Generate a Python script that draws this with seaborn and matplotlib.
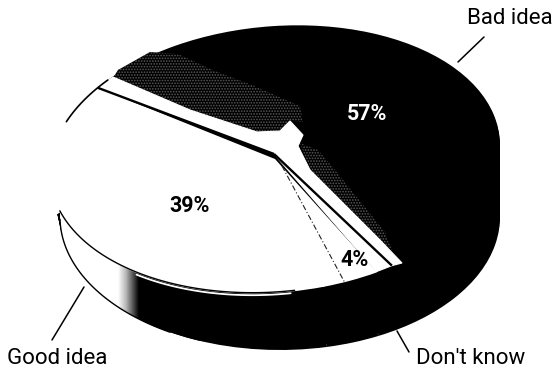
import numpy as np
import matplotlib
matplotlib.use("Agg")
import matplotlib.pyplot as plt
from matplotlib.patches import Polygon
from matplotlib.transforms import Affine2D
import seaborn as sns

# Survey shares, counter-clockwise from the upper-left edge of "Good idea"
categories = ["Good idea", "Don't know", "Bad idea"]
shares = [39, 4, 57]
share_labels = ["39%", "4%", "57%"]
START = 142
# The printed boundary ink sits a few degrees off the geometric slice edge
EDGE_NUDGE = [0, 5.5, 4.5]

sns.set_theme(style="white")
plt.rcParams["font.family"] = ["Roboto", "DejaVu Sans"]
plt.rcParams["hatch.linewidth"] = 0.8

fig = plt.figure(figsize=(5.53, 3.72), dpi=100)
ax = fig.add_axes([0, 0, 1, 1])

# Unit-circle to canvas mappings for the tilted top face and the base rim
TOP = (225, -13.5, 0, -133, 275, 159)
BASE = (220, 0, 0, -133, 280, 217)


def blend(t):
    return tuple((1 - t) * a + t * b for a, b in zip(TOP, BASE))


def rim(theta, m=TOP):
    r = np.radians(theta)
    x, y = np.cos(r), np.sin(r)
    return m[0] * x + m[2] * y + m[4], m[1] * x + m[3] * y + m[5]


def draw_pie(colors, m, z, seam=0.0):
    wedges, _ = ax.pie(shares, startangle=START, colors=colors, counterclock=True,
                       wedgeprops={"linewidth": 0, "antialiased": True})
    for w, c in zip(wedges, colors):
        w.set_transform(Affine2D.from_values(*m) + ax.transData)
        w.set_zorder(z)
        # White slices get a hairline in their own colour to close the seam between them
        if seam and c == "white":
            w.set_edgecolor(c)
            w.set_linewidth(seam)
    return wedges


# Solid body of the pie, stacked between base rim and top face
for t in np.linspace(1, 0.02, 24):
    draw_pie(["black"] * 3, blend(t), 1)

# Pale left flank of the wall, fading into black
tip, turn = 197, 300
ta = np.linspace(165, turn, 100)
tb = np.linspace(178, 290, 80)
wall_xy = np.vstack([np.column_stack(rim(ta)), np.column_stack(rim(tb, BASE))[::-1],
                     [(40, 225), (40, 150)]])
wall = Polygon(wall_xy, closed=True, transform=ax.transData, facecolor="none", edgecolor="none")
ax.add_patch(wall)
fade = np.interp(np.linspace(30, 200, 170), [30, 118, 126, 139, 200], [1, 1, 0.72, 0, 0])
img = ax.imshow(fade[None, :], cmap="gray", vmin=0, vmax=1, extent=(30, 200, 372, 0),
                aspect="auto", zorder=2)
img.set_clip_path(wall)

# Top face
draw_pie(["white", "white", "black"], TOP, 3, seam=1.2)

# Highlight sliver just under the front edge, and the thin rims
sx, sy = rim(np.linspace(232, 274, 40))
ax.plot(sx, sy + 2.5, color="white", lw=1.3, zorder=4)
lx, ly = rim(np.linspace(tip, 275, 80))
ax.plot(lx, ly, color="black", lw=1.0, zorder=6)
bx, by = rim(np.linspace(181, 240, 50), BASE)
ax.plot(bx, by, color="black", lw=1.0, zorder=6)
ux, uy = rim(np.linspace(START - 4, 158, 20))
ax.plot(ux, uy, color="black", lw=1.2, zorder=6)

# Worn, speckled ink on the "Bad idea" face
specks = [
    [(113, 78), (118, 70), (150, 52), (178, 54), (215, 71), (252, 85), (300, 106),
     (303, 122), (290, 121), (280, 130), (257, 133), (190, 110)],
    [(300, 143), (318, 150), (335, 170), (385, 232), (392, 250), (378, 240), (310, 170)],
]
for pts in specks:
    ax.add_patch(Polygon(pts, closed=True, facecolor="black", edgecolor="#5a5a5a",
                         hatch="......", lw=0, zorder=4))

# Slice boundaries, from the cumulative shares
apex = (274, 154)
angles = START + np.cumsum([0] + shares[:2]) * 3.6
left_end = rim(angles[0] + EDGE_NUDGE[0])
mid_end = rim(angles[1] + EDGE_NUDGE[1])
right_end = rim(angles[2] + EDGE_NUDGE[2])

# White band bordering the slice edges on the "Bad idea" side
band = [left_end, (113, 77), (190, 110), (257, 132), (280, 131), (290, 121), (303, 135),
        (298, 146), (310, 170), (380, 240), (402, 263), right_end, rim(angles[2]), apex]
ax.add_patch(Polygon(band, closed=True, facecolor="white", edgecolor="white", lw=0.8, zorder=5))

ax.plot([apex[0], left_end[0]], [apex[1], left_end[1]], color="black", lw=1.7, zorder=6,
        solid_capstyle="butt")
ax.plot([apex[0], right_end[0]], [apex[1], right_end[1]], color="black", lw=1.7, zorder=6,
        solid_capstyle="butt")
ax.plot([apex[0] + 8, mid_end[0]], [apex[1] + 12, mid_end[1]], color="#222222", lw=0.8,
        ls=(0, (5, 2, 1, 2)), zorder=6)

# Share labels on the face
ax.text(367, 114, share_labels[2], color="white", fontsize=15.5, fontweight="bold",
        ha="center", va="center", zorder=7)
ax.text(190, 206, share_labels[0], color="black", fontsize=15.5, fontweight="bold",
        ha="center", va="center", zorder=7)
ax.text(355, 260, share_labels[1], color="black", fontsize=15.5, fontweight="bold",
        ha="center", va="center", zorder=7)

# Category call-outs
ax.text(510, 19, categories[2], fontsize=16, color="black", ha="center", va="center")
ax.text(57, 358, categories[0], fontsize=16, color="black", ha="center", va="center")
ax.text(471, 358, categories[1], fontsize=16, color="black", ha="center", va="center")
ax.plot([458, 484], [62, 37], color="black", lw=1.1)
ax.plot([84, 52], [287, 340], color="black", lw=1.1)
ax.plot([397, 409], [331, 352], color="black", lw=1.1)

ax.set_aspect("auto")
ax.set_xlim(0, 553)
ax.set_ylim(372, 0)
ax.set_axis_off()
fig.savefig("out.png", dpi=100, facecolor="white")
